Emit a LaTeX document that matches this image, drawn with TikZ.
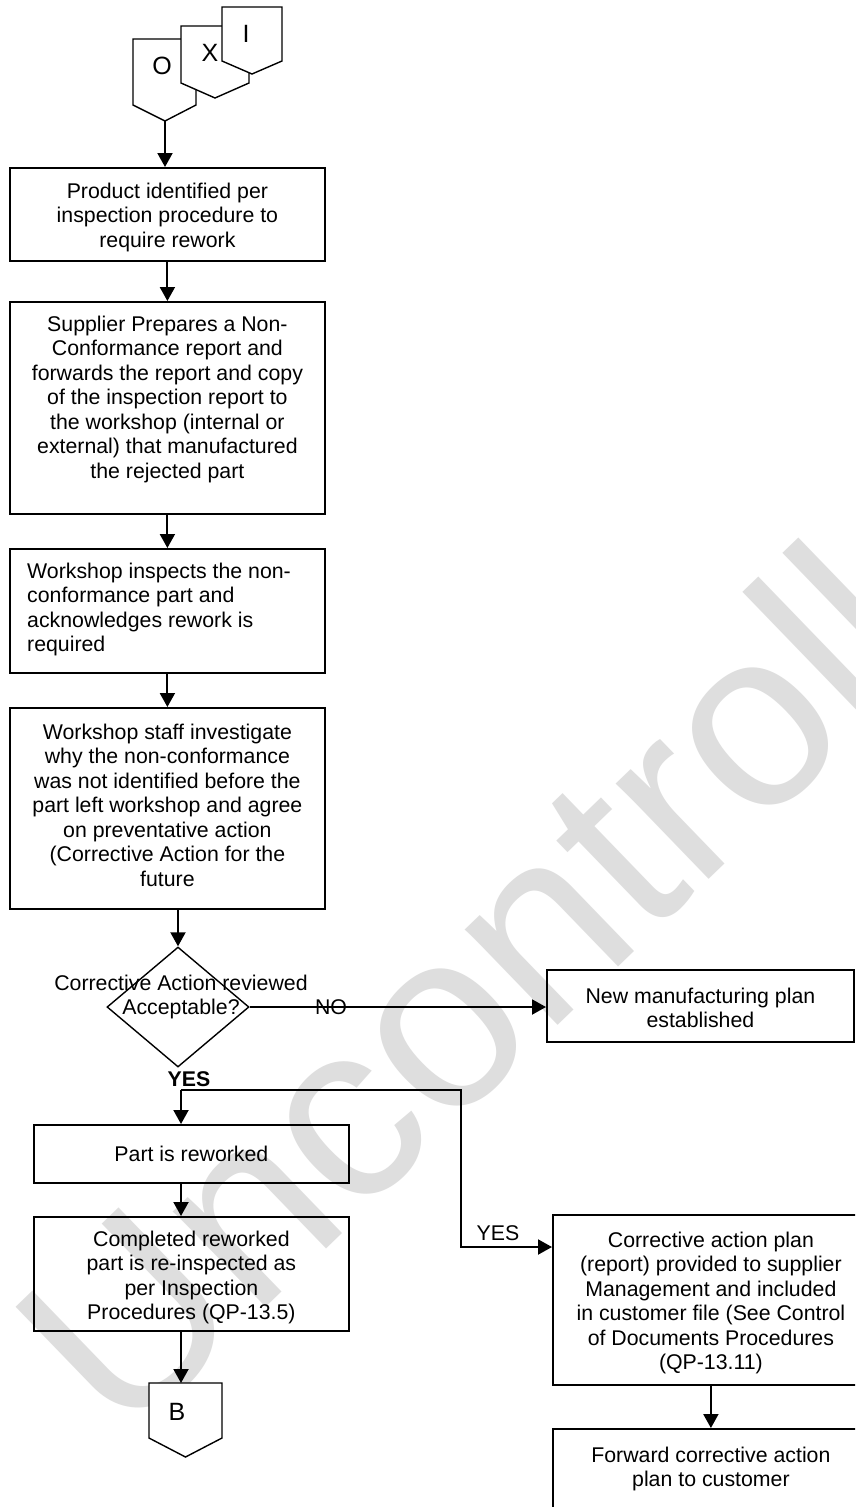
\documentclass[tikz,border=0pt]{standalone}
\usepackage{fontspec}
\setmainfont{Liberation Sans}
\usetikzlibrary{arrows.meta,shapes.geometric}
\definecolor{wmgray}{RGB}{222,222,222}
\newcommand\fstrut{\rule{0pt}{16pt}}
\begin{document}
\begin{tikzpicture}[x=1pt,y=-1pt,
  conn/.style={line width=2pt,-{Triangle[width=15pt,length=14pt]}},
  boxnode/.style={draw,line width=1.8pt,inner sep=0pt,anchor=north west},
  txt/.style={inner sep=0pt,anchor=north,align=center,font=\fontsize{21.3}{24.5}\selectfont},
  lbl/.style={inner sep=0pt,font=\fontsize{21.3}{24.5}\selectfont},
  pagelbl/.style={inner sep=0pt,font=\fontsize{25}{28}\selectfont},
  pent/.style={draw,fill=white,line width=1.4pt,line join=miter},
  decision/.style={diamond,draw,line width=1.4pt,inner sep=0pt,minimum width=142pt,minimum height=120pt}]
\useasboundingbox (0,0) rectangle (855,1507);
\clip (0,0) rectangle (855,1507);
\fill[white] (0,0) rectangle (855,1507);

% watermark
\node[anchor=base west,inner sep=0pt,rotate=44,text=wmgray,
      font=\fontsize{252}{252}\selectfont] (wm) at (122,1446) {Uncontrolled};

% incoming off-page connectors
\draw[pent] (133,39) -- (196,39) -- (196,105) -- (165,121) -- (133,105) -- cycle;
\coordinate (Otip) at (165,121);
\node[pagelbl] (Olbl) at (162,66) {O};
\draw[pent] (181,26) -- (249,26) -- (249,83) -- (215,98) -- (181,83) -- cycle;
\node[pagelbl] (Xlbl) at (210,53) {X};
\draw[pent] (222,7) -- (282,7) -- (282,61) -- (252,74) -- (222,61) -- cycle;
\node[pagelbl] (Ilbl) at (246,34) {I};

% process boxes
\node[boxnode,minimum width=315pt,minimum height=93pt] (b1) at (9,167) {};
\node[txt] (t1) at ([yshift=-15pt]b1.north) {\fstrut Product identified per\\inspection procedure to\\require rework};

\node[boxnode,minimum width=315pt,minimum height=212pt] (b2) at (9,301) {};
\node[txt] (t2) at ([yshift=-14pt]b2.north) {\fstrut Supplier Prepares a Non-\\Conformance report and\\forwards the report and copy\\of the inspection report to\\the workshop (internal or\\external) that manufactured\\the rejected part};

\node[boxnode,minimum width=315pt,minimum height=124pt] (b3) at (9,548) {};
\node[txt,anchor=north west,align=left] (t3) at ([xshift=18pt,yshift=-14pt]b3.north west) {\fstrut Workshop inspects the non-\\conformance part and\\acknowledges rework is\\required};

\node[boxnode,minimum width=315pt,minimum height=201pt] (b4) at (9,707) {};
\node[txt] (t4) at ([yshift=-16pt]b4.north) {\fstrut Workshop staff investigate\\why the non-conformance\\was not identified before the\\part left workshop and agree\\on preventative action\\(Corrective Action for the\\future};

% decision
\node[decision] (dia) at (178,1007) {};
\node[lbl,align=center] (diatxt) at (181,997) {Corrective Action reviewed\\Acceptable?};

\node[boxnode,minimum width=307pt,minimum height=72pt] (b8) at (546,969) {};
\node[lbl,align=center] (t8) at ([yshift=-2pt]b8.center) {New manufacturing plan\\established};

\node[boxnode,minimum width=315pt,minimum height=58pt] (rw) at (33,1124) {};
\node[lbl] (trw) at (rw.center) {Part is reworked};

\node[boxnode,minimum width=315pt,minimum height=114pt] (b7) at (33,1216) {};
\node[txt] (t7) at ([yshift=-14pt]b7.north) {\fstrut Completed reworked\\part is re-inspected as\\per Inspection\\Procedures (QP-13.5)};

\node[boxnode,minimum width=316pt,minimum height=170pt] (b5) at (552,1214) {};
\node[txt] (t5) at ([yshift=-17pt]b5.north) {\fstrut Corrective action plan\\(report) provided to supplier\\Management and included\\in customer file (See Control\\of Documents Procedures\\(QP-13.11)};

\node[boxnode,minimum width=316pt,minimum height=110pt] (b6) at (552,1428) {};
\node[txt] (t6) at ([yshift=-18pt]b6.north) {\fstrut Forward corrective action\\plan to customer};

% outgoing off-page connector
\draw[pent] (149,1383) -- (222,1383) -- (222,1438) -- (185.5,1457) -- (149,1438) -- cycle;
\coordinate (Btop) at (181,1383);
\node[pagelbl] (Blbl) at (177,1412) {B};

% connectors
\coordinate (j) at (181,1090);
\coordinate (k) at (461,1247);
\draw[conn] (Otip) -- (Otip |- b1.north);
\draw[conn] (b1.south) -- (b2.north);
\draw[conn] (b2.south) -- (b3.north);
\draw[conn] (b3.south) -- (b4.north);
\draw[conn] (dia.north |- b4.south) -- (dia.north);
\draw[conn] (dia.east) -- (dia.east -| b8.west);
\draw[conn] (j) -- (j |- rw.north);
\draw[conn] (j) -| (k) -- (k -| b5.west);
\draw[conn] (j |- rw.south) -- (j |- b7.north);
\draw[conn] (j |- b7.south) -- (Btop);
\draw[conn] (b5.south) -- (b6.north);

% branch labels
\node[lbl] (no) at (331,1007) {NO};
\node[lbl,font=\fontsize{21.3}{24.5}\selectfont\bfseries] (yes1) at (189,1079) {YES};
\node[lbl] (yes2) at (498,1233) {YES};
\end{tikzpicture}
\end{document}
